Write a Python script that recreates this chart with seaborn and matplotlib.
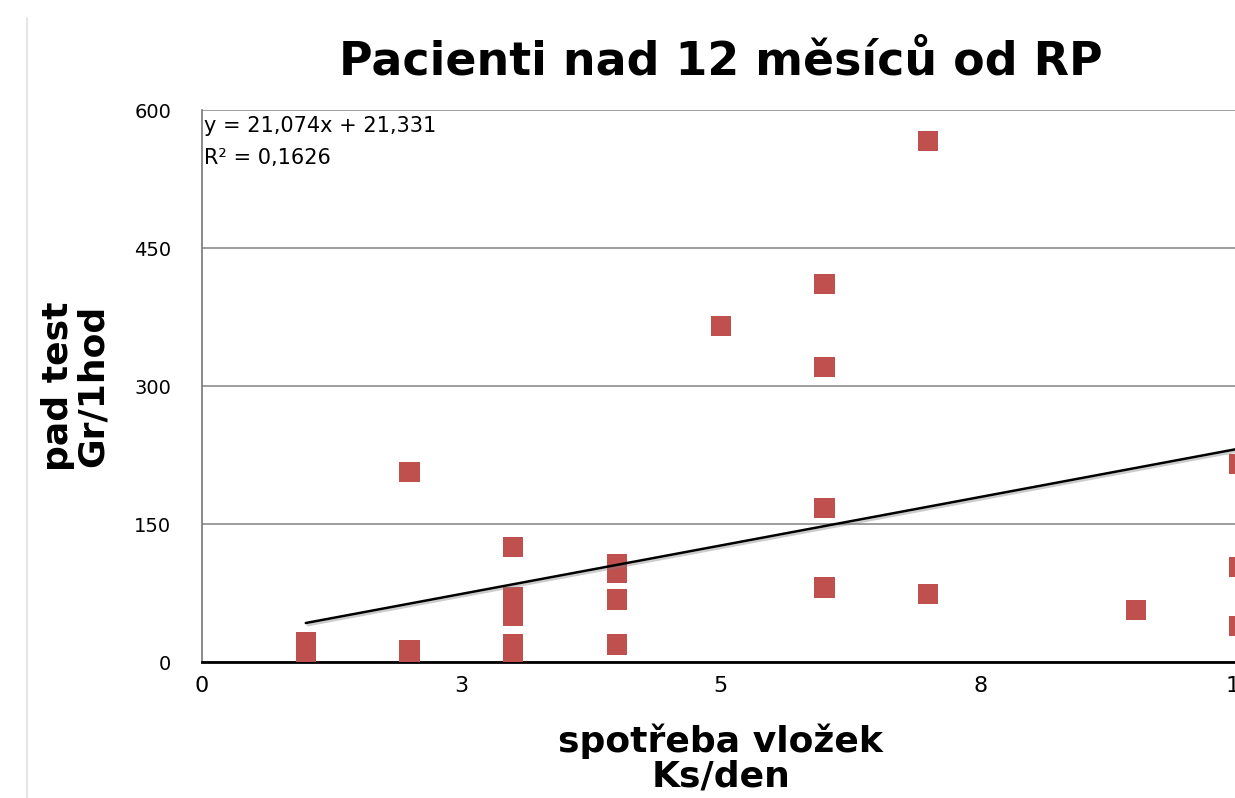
import numpy as np
import pandas as pd
import seaborn as sns
import matplotlib.pyplot as plt
import matplotlib.patheffects as pe
from matplotlib.lines import Line2D

# pad usage per day vs. pad test weight
x_vals = [1, 1, 1, 1, 2, 2, 2, 3, 3, 3, 3, 3, 3, 4, 4, 4, 4, 5, 6, 6, 6, 6, 7, 7, 9, 10, 10, 10]
y_vals = [22, 14, 6, 2, 207, 13, 9, 125, 71, 50, 20, 12, 3, 106, 97, 68, 19,
          365, 411, 321, 167, 81, 566, 74, 57, 215, 103, 39]

slope = 21.074
intercept = 21.331
eq_text = "y = 21,074x + 21,331\nR² = 0,1626"

y_ticks = [0, 150, 300, 450, 600]
x_ticks = [0, 2.5, 5, 7.5, 10]
x_tick_labels = ["0", "3", "5", "8", "10"]

df = pd.DataFrame({"ks": x_vals, "gr": y_vals})

sns.set_style("white")
plt.rcParams['font.family'] = ['DejaVu Sans']
plt.rcParams['text.color'] = 'black'
plt.rcParams['axes.labelcolor'] = 'black'
plt.rcParams['xtick.color'] = 'black'
plt.rcParams['ytick.color'] = 'black'

fig = plt.figure(figsize=(12.35, 7.98), dpi=100)
ax = fig.add_axes([0.1636, 0.1704, 0.84, 0.6916])

sns.scatterplot(data=df, x="ks", y="gr", marker="s", s=210, color="#C0504D",
                edgecolor="none", ax=ax, zorder=3)

# trendline from the fitted coefficients
xl = np.array([min(x_vals), max(x_vals)])
ax.plot(xl, slope * xl + intercept, color="black", lw=1.8, zorder=4,
        path_effects=[pe.SimpleLineShadow(offset=(1.5, -1.5), shadow_color="gray", alpha=0.4),
                      pe.Normal()])

ax.set_xlim(0, 10)
ax.set_ylim(0, 600)
ax.set_yticks(y_ticks)
ax.set_xticks(x_ticks)
ax.set_xticklabels(x_tick_labels)
ax.tick_params(axis="both", length=0, labelsize=14)
ax.tick_params(axis="y", pad=22)
ax.tick_params(axis="x", pad=10, labelsize=16)

ax.yaxis.grid(True, color="#8c8c8c", lw=1.2)
ax.set_axisbelow(True)
for s in ["top", "right"]:
    ax.spines[s].set_visible(False)
ax.spines["left"].set_color("#777777")
ax.spines["left"].set_linewidth(1.2)
ax.spines["bottom"].set_color("black")
ax.spines["bottom"].set_linewidth(2)

ax.text(0.002, 0.99, eq_text, transform=ax.transAxes, va="top", ha="left",
        fontsize=15, linespacing=1.75)

ax.set_title("Pacienti nad 12 měsíců od RP", fontsize=33, fontweight="bold", pad=26)
ax.set_xlabel("spotřeba vložek\nKs/den", fontsize=26, fontweight="bold", labelpad=20,
              linespacing=1.0)
ax.set_ylabel("pad test\nGr/1hod", fontsize=26, fontweight="bold", labelpad=18,
              linespacing=1.0)

# page edge line on the left
fig.add_artist(Line2D([0.022, 0.022], [0.0, 0.977], color="#e6e6e6", lw=1.5))

fig.savefig("out.png", dpi=100)
